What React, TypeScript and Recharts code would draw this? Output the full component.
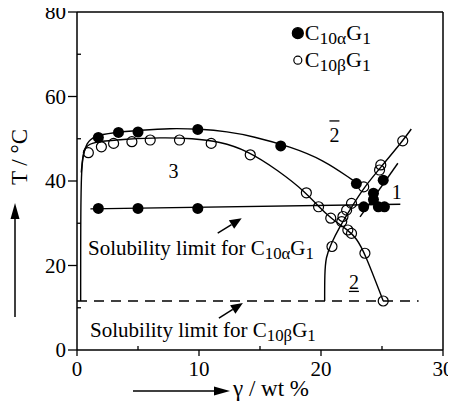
import React from 'react';
import { ComposedChart, Line, Scatter, XAxis, YAxis, ReferenceLine, ReferenceDot } from 'recharts';

const FONT = '"Liberation Serif", "Times New Roman", serif';

// measured points [wt %, T]
const alphaUpper: [number, number][] = [
  [1.75, 50.3], [3.4, 51.5], [5.0, 51.6], [9.9, 52.2], [16.7, 48.3],
  [22.9, 39.4], [24.3, 37.1], [24.3, 35.6], [25.1, 40.2],
];
const alphaLower: [number, number][] = [
  [1.75, 33.5], [5.0, 33.5], [9.9, 33.5], [23.5, 33.9], [24.7, 33.9], [25.2, 33.9],
];
const betaPoints: [number, number][] = [
  [0.93, 46.7], [2.0, 48.1], [3.0, 48.9], [4.5, 49.3], [6.0, 49.7], [8.4, 49.7],
  [11.0, 48.9], [14.2, 46.2], [18.8, 37.2], [19.8, 33.9], [20.8, 31.2], [22.2, 28.4],
  [22.5, 27.6], [23.6, 22.9], [25.1, 11.6], [20.9, 24.5], [21.7, 30.4], [21.8, 31.6],
  [22.1, 33.1], [22.5, 34.7], [23.5, 38.6], [24.8, 42.6], [24.9, 43.8], [26.7, 49.5],
];

// hand drawn phase boundaries
const alphaBoundary: [number, number][] = [
  [0.3, 11.6], [0.3, 30], [0.35, 42], [0.5, 46.5], [0.8, 48.9], [1.3, 50.6], [3, 51.5],
  [5.2, 52], [7.6, 52.5], [10.1, 52.3], [12.3, 51.7], [14.4, 50.6], [17.5, 48.1],
  [20.2, 45], [22.6, 40.2],
];
const betaBoundary: [number, number][] = [
  [0.35, 42], [0.45, 45.5], [0.66, 48.1], [1.3, 49.3], [4.1, 49.9], [6.8, 50.3],
  [9.5, 50.1], [11.7, 49.3], [13.9, 47.3], [16.5, 42.5], [18.8, 37.2], [19.8, 33.9],
  [20.8, 31.2], [22.2, 28.4], [22.9, 26.5], [23.6, 22.9], [25.1, 11.6],
];
const diagonal: [number, number][] = [
  [20.3, 11.6], [20.3, 18], [20.4, 22], [20.8, 25], [21.5, 29], [22.5, 33.8],
  [23.5, 38.4], [25, 43.6], [26.7, 49.5], [27.4, 52.3],
];
const shortLine: [number, number][] = [[23.2, 31.5], [26.3, 44.2]];
const alphaLimit: [number, number][] = [[1.1, 33.4], [26.5, 34.5]];
const betaLimit: [number, number][] = [[0, 11.6], [28, 11.6]];

const xTicks = [0, 5, 10, 15, 20, 25, 30];
const yTicks = [0, 10, 20, 30, 40, 50, 60, 70, 80];

const toData = (pts: [number, number][]) => pts.map(([x, y]) => ({ x, y }));

const XTick = (props: any) => {
  const { x, y, payload } = props;
  const major = payload.value % 10 === 0;
  return (
    <g>
      <line x1={x} x2={x} y1={y} y2={major ? y + 6 : y - 4} stroke="#000" strokeWidth={1.3} />
      {major && (
        <text x={x} y={y + 26} textAnchor="middle" fill="#000" style={{ fontFamily: FONT, fontSize: 21 }}>
          {payload.value}
        </text>
      )}
    </g>
  );
};

const YTick = (props: any) => {
  const { x, y, payload } = props;
  const major = payload.value % 20 === 0;
  return (
    <g>
      <line x1={x} x2={major ? x - 9 : x + 4} y1={y} y2={y} stroke="#000" strokeWidth={1.3} />
      {major && (
        <text x={x - 11} y={y + 7} textAnchor="end" fill="#000" style={{ fontFamily: FONT, fontSize: 21 }}>
          {payload.value}
        </text>
      )}
    </g>
  );
};

const chem = (greek: string, size: number) => [
  'C',
  <tspan key="a" style={{ fontSize: size * 0.8 }} dy={4}>{'10' + greek}</tspan>,
  <tspan key="b" dy={-4}>G</tspan>,
  <tspan key="c" style={{ fontSize: size * 0.8 }} dy={4}>1</tspan>,
];

const label = (content: React.ReactNode, opts: { anchor?: string; dy?: number; size?: number } = {}) =>
  (p: any) => (
    <text x={p.cx} y={p.cy + (opts.dy ?? 7)} textAnchor={opts.anchor ?? 'middle'} fill="#000"
      style={{ fontFamily: FONT, fontSize: opts.size ?? 20 }}>
      {content}
    </text>
  );

const arrow = (p: any) => {
  const tx = p.cx, ty = p.cy;
  const sx = tx - 24, sy = ty + 15;
  const len = Math.hypot(tx - sx, ty - sy);
  const ux = (tx - sx) / len, uy = (ty - sy) / len;
  const bx = tx - ux * 12, by = ty - uy * 12;
  const px = -uy * 5, py = ux * 5;
  return (
    <g>
      <line x1={sx} y1={sy} x2={bx} y2={by} stroke="#000" strokeWidth={1.5} />
      <polygon points={`${tx},${ty} ${bx + px},${by + py} ${bx - px},${by - py}`} fill="#000" />
    </g>
  );
};

const legendItem = (filled: boolean, greek: string) => (p: any) => (
  <g>
    <circle cx={p.cx} cy={p.cy} r={filled ? 5.5 : 4} fill={filled ? '#000' : 'none'} stroke="#000" strokeWidth={1.2} />
    <text x={p.cx + 7} y={p.cy + 7} fill="#000" style={{ fontFamily: FONT, fontSize: 22 }}>{chem(greek, 22)}</text>
  </g>
);

const filledDot = (p: any) => <circle cx={p.cx} cy={p.cy} r={5.5} fill="#000" />;
const openDot = (p: any) => <circle cx={p.cx} cy={p.cy} r={5} fill="none" stroke="#000" strokeWidth={1.2} />;

const curveProps = {
  dataKey: 'y',
  stroke: '#000',
  strokeWidth: 1.4,
  dot: false,
  activeDot: false,
  isAnimationActive: false,
  legendType: 'none' as const,
};

export default function App() {
  return (
    <div style={{ position: 'relative', width: 456, height: 410, margin: '-8px 0 0 -8px', fontFamily: FONT }}>
      <ComposedChart width={456} height={410} margin={{ top: 12, right: 13, left: 37, bottom: 20 }}
        style={{ overflow: 'visible' }}>
        <XAxis type="number" dataKey="x" domain={[0, 30]} ticks={xTicks} interval={0}
          tickSize={0} tickMargin={0} tick={<XTick />} axisLine={{ stroke: '#000', strokeWidth: 1.5 }}
          height={40} allowDataOverflow />
        <YAxis type="number" dataKey="y" domain={[0, 80]} ticks={yTicks} interval={0}
          tickSize={0} tickMargin={0} tick={<YTick />} axisLine={{ stroke: '#000', strokeWidth: 1.5 }}
          width={40} allowDataOverflow />
        <ReferenceLine y={80} stroke="#000" strokeWidth={1.5} />
        <ReferenceLine x={30} stroke="#000" strokeWidth={1.5} />

        <Line {...curveProps} data={toData(alphaBoundary)} type="basis" />
        <Line {...curveProps} data={toData(betaBoundary)} type="basis" />
        <Line {...curveProps} data={toData(diagonal)} type="basis" />
        <Line {...curveProps} data={toData(shortLine)} type="linear" />
        <Line {...curveProps} data={toData(alphaLimit)} type="linear" />
        <Line {...curveProps} data={toData(betaLimit)} type="linear" strokeDasharray="10 7" />

        <Scatter data={toData(alphaUpper)} dataKey="y" shape={filledDot} isAnimationActive={false} />
        <Scatter data={toData(alphaLower)} dataKey="y" shape={filledDot} isAnimationActive={false} />
        <Scatter data={toData(betaPoints)} dataKey="y" shape={openDot} isAnimationActive={false} />

        <ReferenceDot x={18.1} y={75.0} r={0} shape={legendItem(true, 'α')} />
        <ReferenceDot x={18.1} y={68.6} r={0} shape={legendItem(false, 'β')} />

        <ReferenceDot x={7.9} y={42.4} r={0} shape={label('3')} />
        <ReferenceDot x={21.1} y={50.9} r={0} shape={(p: any) => (
          <g>
            {label('2')(p)}
            <line x1={p.cx - 5} x2={p.cx + 5} y1={p.cy - 14} y2={p.cy - 14} stroke="#000" strokeWidth={1.3} />
          </g>
        )} />
        <ReferenceDot x={26.2} y={37.5} r={0} shape={label('1')} />
        <ReferenceDot x={22.7} y={16.0} r={0} shape={(p: any) => (
          <g>
            {label('2')(p)}
            <line x1={p.cx - 5} x2={p.cx + 5} y1={p.cy + 9} y2={p.cy + 9} stroke="#000" strokeWidth={1.3} />
          </g>
        )} />

        <ReferenceDot x={0.9} y={22.5} r={0}
          shape={label(['Solubility limit for ', ...chem('α', 21)], { anchor: 'start', dy: 0, size: 21 })} />
        <ReferenceDot x={1.07} y={3.0} r={0}
          shape={label(['Solubility limit for ', ...chem('β', 21)], { anchor: 'start', dy: 0, size: 21 })} />
        <ReferenceDot x={13.5} y={31.2} r={0} shape={arrow} />
        <ReferenceDot x={13.6} y={11.1} r={0} shape={arrow} />
      </ComposedChart>

      <svg width={456} height={410} style={{ position: 'absolute', left: 0, top: 0, pointerEvents: 'none' }}>
        <text transform="translate(19,157) rotate(-90)" textAnchor="middle" dominantBaseline="central"
          fill="#000" style={{ fontFamily: FONT, fontSize: 23 }}>T / °C</text>
        <line x1={15} x2={15} y1={317} y2={216} stroke="#000" strokeWidth={1.5} />
        <polygon points="15,203 10.5,219 19.5,219" fill="#000" />

        <text x={233} y={396} fill="#000" style={{ fontFamily: FONT, fontSize: 23 }}>γ / wt %</text>
        <line x1={133} x2={218} y1={391} y2={391} stroke="#000" strokeWidth={1.5} />
        <polygon points="230,391 214,386.5 214,395.5" fill="#000" />
      </svg>
    </div>
  );
}
